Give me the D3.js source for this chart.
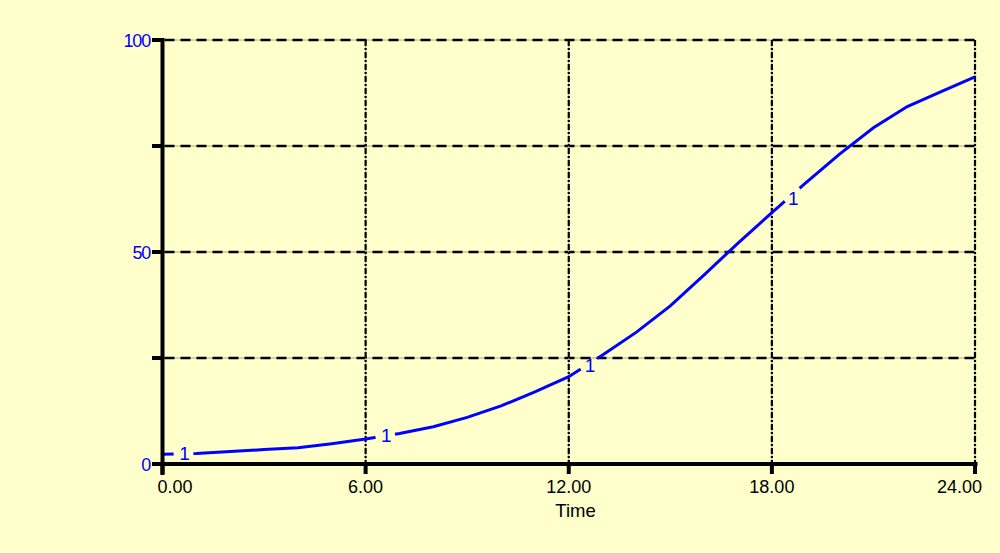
<!DOCTYPE html>
<html><head><meta charset="utf-8">
<script src="https://cdn.jsdelivr.net/npm/d3@7"></script>
<style>
html,body{margin:0;padding:0;background:#FFFFCC;}
svg{display:block;}
text{font-family:"Liberation Sans",Arial,sans-serif;}
</style></head>
<body>
<script>
const times = [0,1,2,3,4,5,6,7,8,9,10,11,12,13,14,15,16,17,18,19,20,21,22,23,24];
const values = [2.3,2.5,2.95,3.4,3.85,4.8,5.9,7.2,8.8,11.0,13.7,17.0,20.6,25.7,31.1,37.3,44.6,52.1,59.3,66.3,73.1,79.3,84.3,87.8,91.3];
const xTicks = [0,6,12,18,24];
const xTickLabels = ["0.00","6.00","12.00","18.00","24.00"];
const yGrid = [0,25,50,75,100];
const yTickLabels = [{v:0,t:"0"},{v:50,t:"50"},{v:100,t:"100"}];
const labelTimes = [0.62,6.58,12.6,18.6];
const seriesName = "1";
const xTitle = "Time";

const W=1000,H=553;
const svg=d3.select("body").append("svg").attr("width",W).attr("height",H);
svg.append("rect").attr("width",W).attr("height",H).attr("fill","#FFFFCC");
const x=d3.scaleLinear().domain([0,24]).range([162.5,975]);
const y=d3.scaleLinear().domain([0,100]).range([464,40]);

// horizontal grid (dashed)
yGrid.filter(v=>v>0).forEach(v=>{
  svg.append("line").attr("x1",x(0)).attr("x2",x(24)).attr("y1",y(v)).attr("y2",y(v))
    .attr("stroke","#a8a898").attr("stroke-width",1);
  svg.append("line").attr("x1",x(0)+2).attr("x2",x(24)).attr("y1",y(v)).attr("y2",y(v))
    .attr("stroke","#000").attr("stroke-width",2.4).attr("stroke-dasharray","10,6");
});
// vertical grid (dash-dot)
xTicks.filter(v=>v>0).forEach(v=>{
  svg.append("line").attr("x1",x(v)).attr("x2",x(v)).attr("y1",y(100)).attr("y2",y(0))
    .attr("stroke","#a8a898").attr("stroke-width",1);
  svg.append("line").attr("x1",x(v)).attr("x2",x(v)).attr("y1",y(100)).attr("y2",y(0))
    .attr("stroke","#000").attr("stroke-width",2.2).attr("stroke-dasharray","6,2,2,2");
});

const interp=t=>{const i=Math.min(Math.floor(t),times.length-2);const f=t-times[i];return values[i]+(values[i+1]-values[i])*f;};
const slopePx=t=>{const i=Math.min(Math.floor(t),times.length-2);return Math.abs(y(values[i+1])-y(values[i]))/(x(times[i+1])-x(times[i]));};

// mask for label gaps
const defs=svg.append("defs");
const mask=defs.append("mask").attr("id","gapmask").attr("maskUnits","userSpaceOnUse")
  .attr("x",0).attr("y",0).attr("width",W).attr("height",H);
mask.append("rect").attr("width",W).attr("height",H).attr("fill","#fff");
labelTimes.forEach(t=>{
  mask.append("circle").attr("cx",x(t)).attr("cy",y(interp(t))).attr("r",10).attr("fill","#000");
});

const line=d3.line().x((d,i)=>x(times[i])).y(d=>y(d));
svg.append("path").datum(values).attr("d",line).attr("fill","none")
  .attr("stroke","#0000FF").attr("stroke-width",3).attr("mask","url(#gapmask)");

labelTimes.forEach(t=>{
  const s=slopePx(t);
  svg.append("text").attr("x",x(t)+1).attr("y",y(interp(t))+1.2+5*s*s).attr("text-anchor","middle")
    .attr("dominant-baseline","middle").attr("font-size",19).attr("fill","#0000FF").text(seriesName);
});

// axes
svg.append("line").attr("x1",162.5).attr("x2",162.5).attr("y1",38).attr("y2",475)
  .attr("stroke","#000").attr("stroke-width",4);
svg.append("line").attr("x1",152).attr("x2",977.5).attr("y1",464).attr("y2",464)
  .attr("stroke","#000").attr("stroke-width",4);
yGrid.forEach(v=>{
  svg.append("line").attr("x1",152).attr("x2",163).attr("y1",y(v)).attr("y2",y(v))
    .attr("stroke","#000").attr("stroke-width",4);
});
xTicks.forEach(v=>{
  svg.append("line").attr("x1",x(v)).attr("x2",x(v)).attr("y1",462).attr("y2",474)
    .attr("stroke","#000").attr("stroke-width",4);
});
yTickLabels.forEach(d=>{
  svg.append("text").attr("x",150).attr("y",y(d.v)+6.5).attr("text-anchor","end")
    .attr("font-size",18).attr("fill","#0000FF").attr("letter-spacing",-1.2).text(d.t);
});
xTicks.forEach((v,i)=>{
  const anchor = i===0?"start":(i===xTicks.length-1?"end":"middle");
  const dx = i===0?-5:(i===xTicks.length-1?7:0);
  svg.append("text").attr("x",x(v)+dx).attr("y",492.5).attr("text-anchor",anchor)
    .attr("font-size",18).attr("fill","#000").text(xTickLabels[i]);
});
svg.append("text").attr("x",575.5).attr("y",517).attr("text-anchor","middle")
  .attr("font-size",18.5).attr("fill","#000").text(xTitle);
</script>
</body></html>
